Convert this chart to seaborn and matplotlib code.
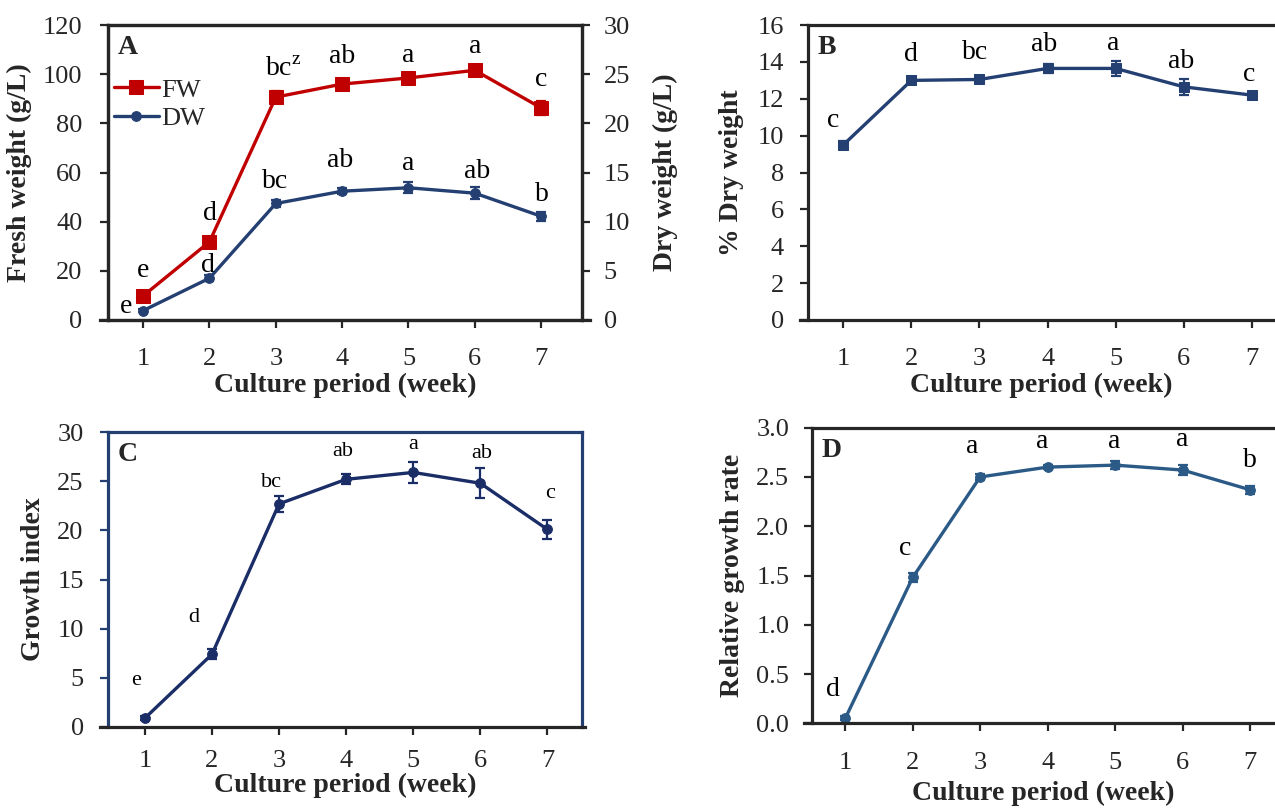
import matplotlib
matplotlib.use("Agg")
import matplotlib.pyplot as plt
import seaborn as sns

# data
weeks = [1, 2, 3, 4, 5, 6, 7]

fw = [9.8, 31.8, 90.7, 96.0, 98.5, 101.6, 86.3]
fw_err = [1.0, 1.5, 2.5, 1.5, 1.5, 2.0, 3.0]
fw_letters = ['e', 'd', r'bc$^{\mathrm{z}}$', 'ab', 'a', 'a', 'c']

dw = [0.95, 4.25, 11.85, 13.1, 13.45, 12.9, 10.55]
dw_err = [0.15, 0.3, 0.35, 0.3, 0.55, 0.6, 0.45]
dw_letters = ['e', 'd', 'bc', 'ab', 'a', 'ab', 'b']

pct_dw = [9.5, 13.0, 13.05, 13.65, 13.65, 12.65, 12.2]
pct_err = [0.2, 0.2, 0.2, 0.25, 0.4, 0.45, 0.1]
pct_letters = ['c', 'd', 'bc', 'ab', 'a', 'ab', 'c']

gi = [0.9, 7.4, 22.7, 25.2, 25.9, 24.8, 20.1]
gi_err = [0.2, 0.5, 0.8, 0.5, 1.1, 1.5, 1.0]
gi_letters = ['e', 'd', 'bc', 'ab', 'a', 'ab', 'c']

rgr = [0.05, 1.48, 2.50, 2.60, 2.62, 2.57, 2.37]
rgr_err = [0.02, 0.05, 0.03, 0.02, 0.04, 0.05, 0.04]
rgr_letters = ['d', 'c', 'a', 'a', 'a', 'a', 'b']

sns.set_style("ticks")
plt.rcParams['font.family'] = ['Liberation Serif', 'DejaVu Serif']
plt.rcParams['mathtext.fontset'] = 'custom'
plt.rcParams['mathtext.rm'] = 'Liberation Serif'
plt.rcParams['axes.linewidth'] = 2.3
plt.rcParams['xtick.major.width'] = 1.6
plt.rcParams['ytick.major.width'] = 1.6
plt.rcParams['xtick.major.size'] = 5.5
plt.rcParams['ytick.major.size'] = 5.5

TICK = 19
LAB = 20
LET = 20
RED = '#c00000'
NAVY = '#243f72'
NAVY_C = '#1a2d66'
BLUE_D = '#2b5a87'

fig = plt.figure(figsize=(12.75, 8.1), dpi=100)


def draw(ax, y, err, color, marker, ms, label=None):
    sns.lineplot(x=weeks, y=y, ax=ax, color=color, marker=marker, markersize=ms,
                 markeredgecolor=color, linewidth=2.4, label=label, legend=False)
    ax.errorbar(weeks, y, yerr=err, fmt='none', ecolor=color, elinewidth=1.6,
                capsize=3.5, capthick=1.6)


def letters(ax, y, labs, offs, size, color='black'):
    for xv, yv, t, (dx, dy) in zip(weeks, y, labs, offs):
        ax.annotate(t, (xv, yv), xytext=(dx, dy), textcoords='offset pixels',
                    ha='center', va='center', fontsize=size, color=color)


def style(ax, ylabel, ylim, yticks, xlim, ypad, ylpad, xlpad, fmt=None,
          ext=(0.12, 0), xpad=15):
    ax.set_xlim(*xlim)
    ax.set_ylim(*ylim)
    ax.set_xticks(weeks)
    ax.set_yticks(yticks)
    if fmt:
        ax.set_yticklabels([fmt.format(v) for v in yticks])
    ax.tick_params(labelsize=TICK, direction='out')
    ax.tick_params(axis='x', pad=xpad)
    ax.tick_params(axis='y', pad=ypad)
    # horizontal axis line runs on past the vertical axes, as in Excel
    ax.spines['bottom'].set_bounds(xlim[0] - ext[0], xlim[1] + ext[1])
    ax.set_xlabel('Culture period (week)', fontsize=LAB, fontweight='bold',
                  labelpad=xlpad)
    ax.set_ylabel(ylabel, fontsize=LAB, fontweight='bold', labelpad=ylpad)


# ---- A
axA = fig.add_axes([0.0847, 0.605, 0.372, 0.364])
axA2 = axA.twinx()
draw(axA, fw, fw_err, RED, 's', 9.5, 'FW')
draw(axA2, dw, dw_err, NAVY, 'o', 7, 'DW')
style(axA, 'Fresh weight (g/L)', (0, 120), range(0, 121, 20), (0.47, 7.62),
      13, 8, 2, ext=(0.12, 0.12))
axA2.set_ylim(0, 30)
axA2.set_yticks(range(0, 31, 5))
axA2.tick_params(labelsize=TICK, pad=10)
axA2.set_ylabel('Dry weight (g/L)', fontsize=LAB, fontweight='bold', labelpad=16)
letters(axA, fw, fw_letters,
        [(0, 25), (0, 28), (7, 28), (0, 28), (0, 22), (0, 24), (0, 28)], LET)
letters(axA2, dw, dw_letters,
        [(-17, 4), (-2, 13), (-1, 22), (-2, 31), (0, 24), (2, 22), (1, 22)], LET)
h1, l1 = axA.get_legend_handles_labels()
h2, l2 = axA2.get_legend_handles_labels()
axA.legend(h1 + h2, l1 + l2, loc='upper left', bbox_to_anchor=(0.012, 0.82),
           frameon=False, fontsize=TICK, handlelength=1.7, handletextpad=0.1,
           labelspacing=0.2, borderaxespad=0, borderpad=0)
axA.text(0.02, 0.965, 'A', transform=axA.transAxes, fontsize=20, fontweight='bold',
         va='top', ha='left')

# ---- B
axB = fig.add_axes([0.634, 0.605, 0.366, 0.364])
draw(axB, pct_dw, pct_err, NAVY, 's', 7)
style(axB, '% Dry weight', (0, 16), range(0, 17, 2), (0.487, 7.34), 12, 10, 2)
axB.spines['right'].set_visible(False)
letters(axB, pct_dw, pct_letters,
        [(-10, 24), (0, 26), (-4, 27), (-3, 24), (-2, 25), (-3, 25), (-3, 21)], LET)
axB.text(0.02, 0.965, 'B', transform=axB.transAxes, fontsize=20, fontweight='bold',
         va='top', ha='left')

# ---- C
axC = fig.add_axes([0.0847, 0.1025, 0.372, 0.364])
draw(axC, gi, gi_err, NAVY_C, 'o', 7)
style(axC, 'Growth index', (0, 30), range(0, 31, 5), (0.45, 7.52), 12, 8, 1,
      ext=(0.12, 0.04), xpad=11)
for s in ['top', 'left', 'right']:
    axC.spines[s].set_color(NAVY)
axC.tick_params(axis='y', color=NAVY)
letters(axC, gi, gi_letters,
        [(-9, 38), (-18, 37), (-8, 21), (-3, 28), (0, 28), (1, 30), (3, 36)], 16)
axC.text(0.02, 0.965, 'C', transform=axC.transAxes, fontsize=20, fontweight='bold',
         va='top', ha='left')

# ---- D
axD = fig.add_axes([0.637, 0.107, 0.363, 0.365])
draw(axD, rgr, rgr_err, BLUE_D, 'o', 7)
style(axD, 'Relative growth rate', (0, 3.0), [0, 0.5, 1.0, 1.5, 2.0, 2.5, 3.0],
      (0.51, 7.37), 11, 8, 5, fmt='{:.1f}')
axD.spines['right'].set_visible(False)
letters(axD, rgr, rgr_letters,
        [(-12, 29), (-8, 29), (-8, 30), (-5, 26), (-1, 24), (0, 31), (0, 29)], LET)
axD.text(0.02, 0.965, 'D', transform=axD.transAxes, fontsize=20, fontweight='bold',
         va='top', ha='left')

fig.savefig('out.png', dpi=100)
